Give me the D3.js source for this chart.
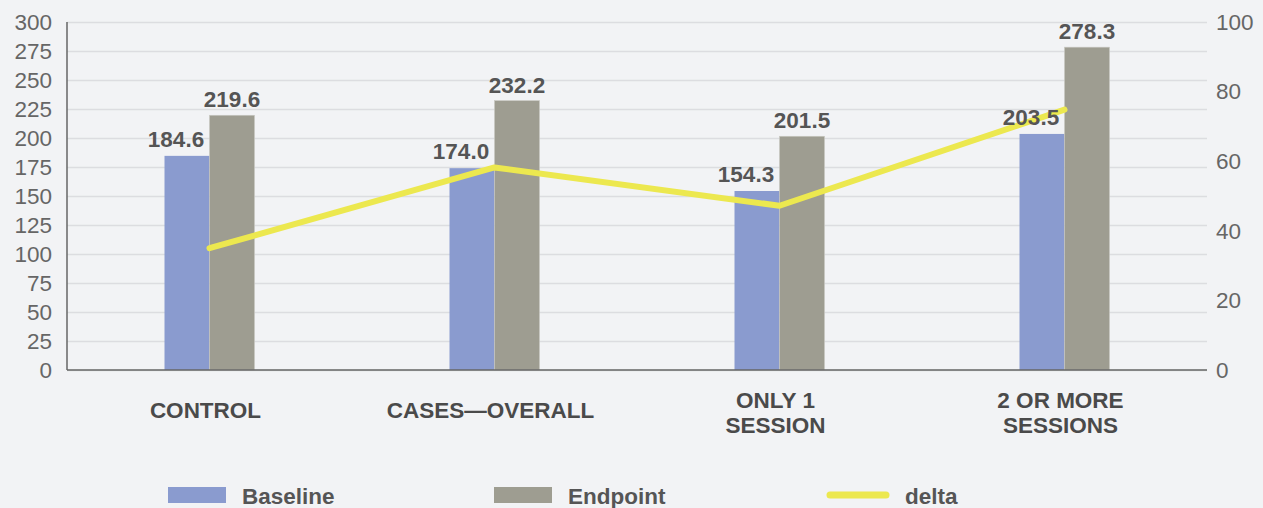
<!DOCTYPE html>
<html>
<head>
<meta charset="utf-8">
<script src="https://cdn.jsdelivr.net/npm/d3@7"></script>
<style>
  html, body { margin: 0; padding: 0; background: #f2f3f5; }
  svg { display: block; font-family: "Liberation Sans", Arial, Helvetica, sans-serif; }
</style>
</head>
<body>
<svg id="chart" width="1263" height="508"></svg>
<script>
const categories = [["CONTROL"], ["CASES\u2014OVERALL"], ["ONLY 1", "SESSION"], ["2 OR MORE", "SESSIONS"]];
const baseline = [184.6, 174.0, 154.3, 203.5];
const endpoint = [219.6, 232.2, 201.5, 278.3];
const delta = [35.0, 58.2, 47.2, 74.8];
const leftTicks = [0, 25, 50, 75, 100, 125, 150, 175, 200, 225, 250, 275, 300];
const rightTicks = [0, 20, 40, 60, 80, 100];
const legendItems = ["Baseline", "Endpoint", "delta"];

(function () {
const colors = { baseline: "#8a9bcf", endpoint: "#9e9d91", delta: "#ece84f" };
const W = 1263, H = 508;
const pL = 67, pR = 1207, pT = 22, pB = 370;

const svg = d3.select("#chart");
svg.append("rect").attr("width", W).attr("height", H).attr("fill", "#f2f3f5");

const x = d3.scaleBand().domain(d3.range(categories.length)).range([pL, pR]).padding(0);
const y = d3.scaleLinear().domain([0, 300]).range([pB, pT]);
const y2 = d3.scaleLinear().domain([0, 100]).range([pB, pT]);
const barW = 45;
const cx = i => x(i) + x.bandwidth() / 2;

// gridlines
const grid = svg.append("g").attr("transform", `translate(${pL},0)`)
  .call(d3.axisLeft(y).tickValues(leftTicks).tickSize(-(pR - pL)).tickFormat(""));
grid.select(".domain").remove();
grid.selectAll(".tick line").attr("stroke", "#dcdde0").attr("stroke-width", 1.5);

// left axis labels
const la = svg.append("g").attr("transform", `translate(${pL},0)`)
  .call(d3.axisLeft(y).tickValues(leftTicks).tickSize(0).tickPadding(15));
la.select(".domain").remove();
la.selectAll("text").attr("font-size", 22.5).attr("fill", "#666").attr("font-family", "Liberation Sans, Arial, sans-serif");

// right axis labels
const ra = svg.append("g").attr("transform", `translate(${pR},0)`)
  .call(d3.axisRight(y2).tickValues(rightTicks).tickSize(0).tickPadding(9));
ra.select(".domain").remove();
ra.selectAll("text").attr("font-size", 22.5).attr("fill", "#666").attr("font-family", "Liberation Sans, Arial, sans-serif");

// bars
svg.append("g").selectAll("rect").data(baseline).join("rect")
  .attr("x", (d, i) => cx(i) - barW).attr("width", barW)
  .attr("y", d => y(d)).attr("height", d => y(0) - y(d))
  .attr("fill", colors.baseline);
svg.append("g").selectAll("rect").data(endpoint).join("rect")
  .attr("x", (d, i) => cx(i)).attr("width", barW)
  .attr("y", d => y(d)).attr("height", d => y(0) - y(d))
  .attr("fill", colors.endpoint).attr("stroke", "#c9c9c1").attr("stroke-width", 0.6);

// axes lines
svg.append("line").attr("x1", pL).attr("x2", pL).attr("y1", pT).attr("y2", pB)
  .attr("stroke", "#666").attr("stroke-width", 1.5);
svg.append("line").attr("x1", pL).attr("x2", pR).attr("y1", pB).attr("y2", pB)
  .attr("stroke", "#666").attr("stroke-width", 1.5);

// delta line
const line = d3.line().x((d, i) => cx(i)).y(d => y2(d));
svg.append("path").datum(delta).attr("d", line)
  .attr("fill", "none").attr("stroke", colors.delta).attr("stroke-width", 6)
  .attr("stroke-linecap", "round").attr("stroke-linejoin", "round");

// value labels
svg.append("g").selectAll("text").data(baseline).join("text")
  .attr("x", (d, i) => cx(i) - barW / 2 - 11).attr("y", d => y(d) - 9)
  .attr("text-anchor", "middle").attr("font-size", 22.5).attr("font-weight", "bold").attr("fill", "#555")
  .text(d => d.toFixed(1));
svg.append("g").selectAll("text").data(endpoint).join("text")
  .attr("x", (d, i) => cx(i) + barW / 2).attr("y", d => y(d) - 8)
  .attr("text-anchor", "middle").attr("font-size", 22.5).attr("font-weight", "bold").attr("fill", "#555")
  .text(d => d.toFixed(1));

// category labels
const cat = svg.append("g").selectAll("text").data(categories).join("text")
  .attr("text-anchor", "middle").attr("font-size", 22.5).attr("font-weight", "bold").attr("fill", "#4a4a4a")
  .attr("transform", (d, i) => `translate(${cx(i) - 4},${d.length === 1 ? 418 : 408})`);
cat.selectAll("tspan").data(d => d).join("tspan")
  .attr("x", 0).attr("dy", (d, j) => j === 0 ? 0 : 25).text(d => d);

// legend
const lg = svg.append("g");
const legendPos = [168, 494, 827];
const textPos = [242, 568, 905];
lg.append("rect").attr("x", legendPos[0]).attr("y", 487).attr("width", 58).attr("height", 16).attr("fill", colors.baseline);
lg.append("rect").attr("x", legendPos[1]).attr("y", 487).attr("width", 58).attr("height", 16).attr("fill", colors.endpoint);
lg.append("line").attr("x1", legendPos[2] + 3).attr("x2", legendPos[2] + 59).attr("y1", 495).attr("y2", 495)
  .attr("stroke", colors.delta).attr("stroke-width", 7).attr("stroke-linecap", "round");
lg.selectAll("text").data(legendItems).join("text")
  .attr("x", (d, i) => textPos[i]).attr("y", 504)
  .attr("font-size", 22.5).attr("font-weight", "bold").attr("fill", "#555")
  .text(d => d);
})();
</script>
</body>
</html>
